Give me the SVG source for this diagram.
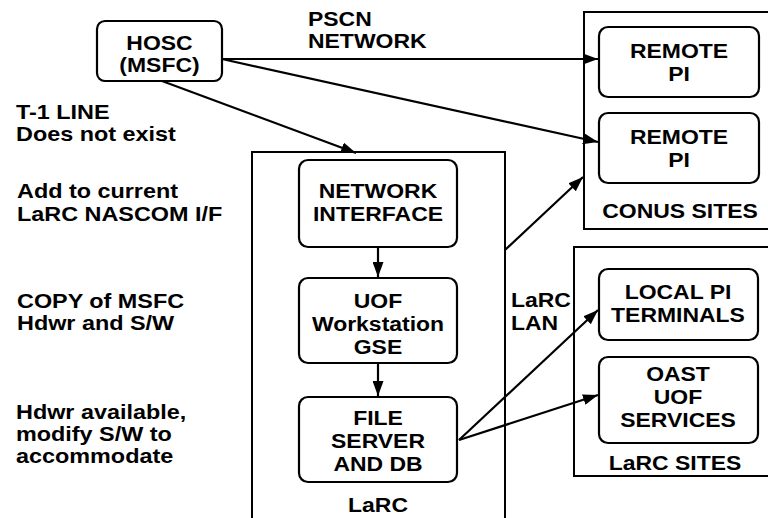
<svg xmlns="http://www.w3.org/2000/svg" width="768" height="518" viewBox="0 0 768 518">
<style>
.box{fill:#fff;stroke:#000;stroke-width:2.2}
.cont{fill:none;stroke:#000;stroke-width:2}
.t{font-family:"Liberation Sans",Arial,sans-serif;font-weight:bold;font-size:20.5px;fill:#000;text-anchor:middle}
.l{font-family:"Liberation Sans",Arial,sans-serif;font-weight:bold;font-size:20.5px;fill:#000;text-anchor:start}
.n{font-family:"Liberation Sans",Arial,sans-serif;font-weight:bold;font-size:19.5px;fill:#000;text-anchor:start}
.c{fill:none;stroke:#000;stroke-width:2.2}
</style>
<defs>
<marker id="ah" markerUnits="userSpaceOnUse" markerWidth="15" markerHeight="11" refX="15" refY="5.5" orient="auto">
<path d="M0,0 L15,5.5 L0,11 z" fill="#000"/>
</marker>
</defs>
<rect width="768" height="518" fill="#fff"/>

<g id="containers">
<path class="cont" d="M252,518 V152 H505 V518"/>
<path class="cont" d="M768,12 H584 V229 H768"/>
<path class="cont" d="M768,247 H574 V476 H768"/>
</g>

<g id="notes">
<text class="l" transform="translate(308,25.5) scale(1.12,1)"><tspan x="0" y="0">PSCN</tspan><tspan x="0" y="23">NETWORK</tspan></text>
<text class="n" transform="translate(16,119) scale(1.2,1)"><tspan x="0" y="0">T-1 LINE</tspan><tspan x="0" y="22">Does not exist</tspan></text>
<text class="n" transform="translate(17,198) scale(1.2,1)"><tspan x="0" y="0">Add to current</tspan><tspan x="0" y="23">LaRC NASCOM I/F</tspan></text>
<text class="n" transform="translate(17,308) scale(1.2,1)"><tspan x="0" y="0">COPY of MSFC</tspan><tspan x="0" y="22">Hdwr and S/W</tspan></text>
<text class="n" transform="translate(16,419) scale(1.2,1)"><tspan x="0" y="0">Hdwr available,</tspan><tspan x="0" y="22">modify S/W to</tspan><tspan x="0" y="44">accommodate</tspan></text>
<text class="l" transform="translate(511,307) scale(1.12,1)"><tspan x="0" y="0">LaRC</tspan><tspan x="0" y="23">LAN</tspan></text>
<text class="t" transform="translate(378,512) scale(1.12,1)">LaRC</text>
<text class="t" transform="translate(680,218) scale(1.12,1)">CONUS SITES</text>
<text class="t" transform="translate(675,470) scale(1.12,1)">LaRC SITES</text>
</g>

<g id="hosc">
<rect class="box" x="97" y="21" width="125" height="60" rx="8"/>
<text class="t" transform="translate(159.5,49.5) scale(1.12,1)"><tspan x="0" y="0">HOSC</tspan><tspan x="0" y="23">(MSFC)</tspan></text>
</g>

<g id="network-interface">
<rect class="box" x="299" y="160" width="158" height="87" rx="9"/>
<text class="t" transform="translate(378,198) scale(1.12,1)"><tspan x="0" y="0">NETWORK</tspan><tspan x="0" y="23">INTERFACE</tspan></text>
</g>

<g id="uof-workstation">
<rect class="box" x="299" y="278" width="158" height="85" rx="9"/>
<text class="t" transform="translate(378,308) scale(1.12,1)"><tspan x="0" y="0">UOF</tspan><tspan x="0" y="23">Workstation</tspan><tspan x="0" y="46">GSE</tspan></text>
</g>

<g id="file-server">
<rect class="box" x="299" y="397" width="158" height="85" rx="9"/>
<text class="t" transform="translate(378,425) scale(1.12,1)"><tspan x="0" y="0">FILE</tspan><tspan x="0" y="23">SERVER</tspan><tspan x="0" y="46">AND DB</tspan></text>
</g>

<g id="remote-pi-1">
<rect class="box" x="599" y="27" width="160" height="70" rx="9"/>
<text class="t" transform="translate(679,58) scale(1.12,1)"><tspan x="0" y="0">REMOTE</tspan><tspan x="0" y="23">PI</tspan></text>
</g>

<g id="remote-pi-2">
<rect class="box" x="599" y="113" width="160" height="70" rx="9"/>
<text class="t" transform="translate(679,144) scale(1.12,1)"><tspan x="0" y="0">REMOTE</tspan><tspan x="0" y="23">PI</tspan></text>
</g>

<g id="local-pi">
<rect class="box" x="599" y="269" width="159" height="71" rx="9"/>
<text class="t" transform="translate(678,299) scale(1.12,1)"><tspan x="0" y="0">LOCAL PI</tspan><tspan x="0" y="23">TERMINALS</tspan></text>
</g>

<g id="oast">
<rect class="box" x="599" y="357" width="159" height="86" rx="9"/>
<text class="t" transform="translate(678,381) scale(1.12,1)"><tspan x="0" y="0">OAST</tspan><tspan x="0" y="23">UOF</tspan><tspan x="0" y="46">SERVICES</tspan></text>
</g>

<g id="connectors">
<line class="c" x1="162" y1="81" x2="356" y2="153" marker-end="url(#ah)"/>
<line class="c" x1="222" y1="59" x2="598" y2="59" marker-end="url(#ah)"/>
<line class="c" x1="222" y1="59" x2="598" y2="142" marker-end="url(#ah)"/>
<line class="c" x1="378" y1="247" x2="378" y2="277" marker-end="url(#ah)"/>
<line class="c" x1="378" y1="363" x2="378" y2="396" marker-end="url(#ah)"/>
<line class="c" x1="505" y1="250" x2="583" y2="177" marker-end="url(#ah)"/>
<line class="c" x1="459" y1="440" x2="598" y2="310" marker-end="url(#ah)"/>
<line class="c" x1="459" y1="440" x2="598" y2="395" marker-end="url(#ah)"/>
</g>
</svg>
